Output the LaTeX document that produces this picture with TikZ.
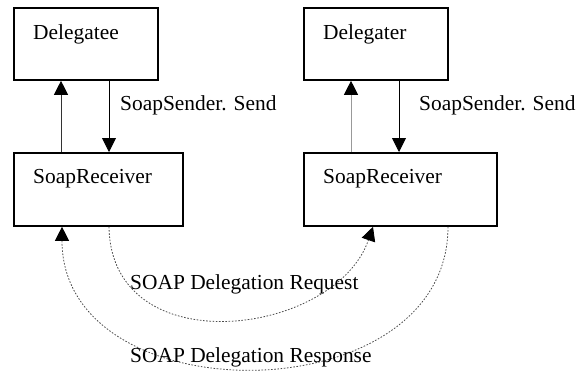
\documentclass[tikz,border=0pt]{standalone}
\usepackage{fontspec}
\setmainfont{Liberation Serif}
\usetikzlibrary{arrows.meta}
\begin{document}
\begin{tikzpicture}[x=1pt,y=-1pt,
  box/.style={draw=black,line width=1.8pt,fill=white,anchor=north west,inner sep=0pt},
  lbl/.style={anchor=base west,inner sep=0pt,font=\fontsize{21.4}{25}\selectfont},
  call/.style={line width=0.9pt,-{Triangle[width=14pt,length=14pt,color=black]}},
  msg/.style={draw=black!70,line width=0.8pt,dash pattern=on 1.6pt off 1.6pt,
    -{Triangle[width=14pt,length=14pt,color=black]}}]
  \useasboundingbox (0,0) rectangle (580,370);

  % boxes
  \node[box,minimum width=144pt,minimum height=72pt] (dee) at (13,7) {};
  \node[box,minimum width=169pt,minimum height=73pt] (srL) at (13,152) {};
  \node[box,minimum width=144pt,minimum height=72pt] (der) at (303,7) {};
  \node[box,minimum width=193pt,minimum height=73pt] (srR) at (303,152) {};

  % box captions
  \node[lbl] (deeT) at (33,39) {Delegatee};
  \node[lbl] (derT) at (323,39) {Delegater};
  \node[lbl] (srLT) at (33,183) {SoapReceiver};
  \node[lbl] (srRT) at (323,183) {SoapReceiver};

  % local calls between component and its receiver
  \draw[call,draw=black!80] ([xshift=48pt]srL.north west) -- ([xshift=48pt]dee.south west);
  \draw[call] ([xshift=96pt]dee.south west) -- ([xshift=96pt]srL.north west);
  \draw[call,draw=black!40] ([xshift=48pt]srR.north west) -- ([xshift=48pt]der.south west);
  \draw[call] ([xshift=96pt]der.south west) -- ([xshift=96pt]srR.north west);
  \node[lbl] (sendL) at (120,110) {SoapSender. Send};
  \node[lbl] (sendR) at (419,110) {SoapSender. Send};

  % SOAP messages between the two receivers
  \draw[msg] ([xshift=96pt]srL.south west)
    .. controls +(2,138) and +(-38,110) .. ([xshift=70pt]srR.south west);
  \draw[msg] ([xshift=145pt]srR.south west)
    .. controls +(0,188) and +(0,190) .. ([xshift=49pt]srL.south west);
  \node[lbl] (req) at (130,289) {SOAP Delegation Request};
  \node[lbl] (resp) at (130,362) {SOAP Delegation Response};
\end{tikzpicture}
\end{document}
